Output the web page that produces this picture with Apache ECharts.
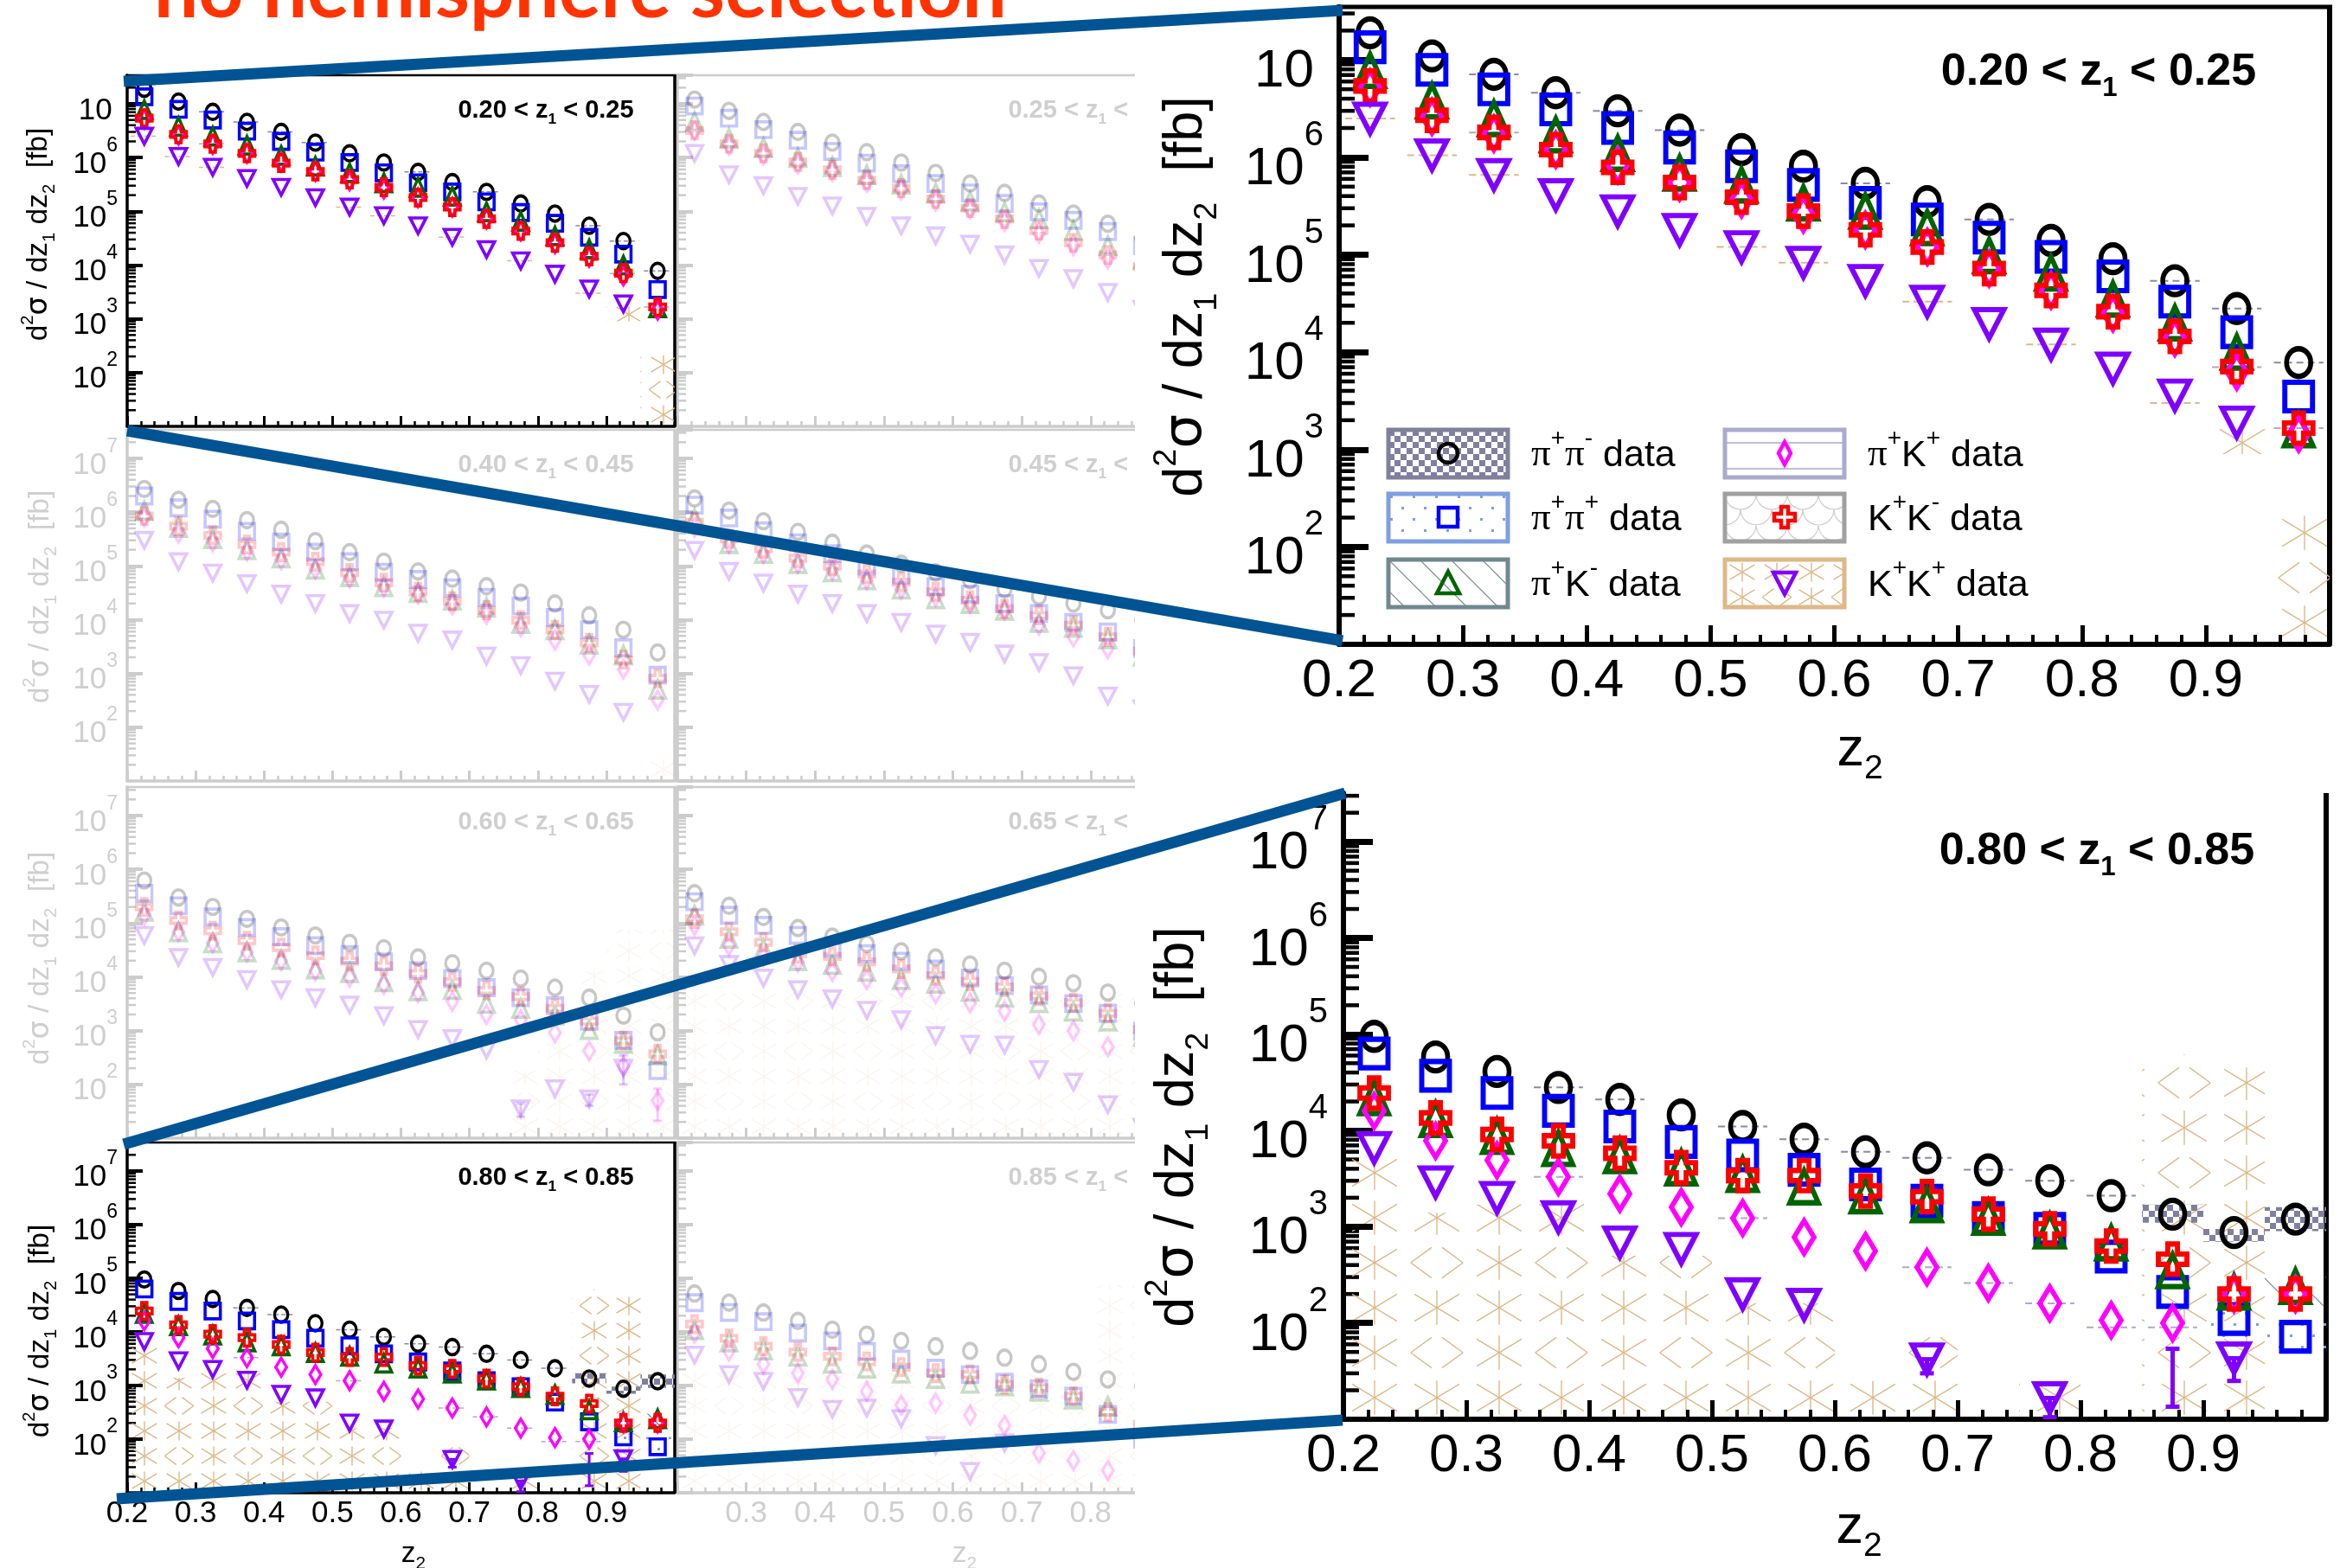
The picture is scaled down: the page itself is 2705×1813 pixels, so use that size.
<!DOCTYPE html>
<html><head><meta charset="utf-8">
<style>html,body{margin:0;padding:0;background:#fff}#c{width:2705px;height:1813px}</style>
<script src="https://cdn.jsdelivr.net/npm/echarts@6/dist/echarts.min.js"></script>
</head><body><div id="c"></div>
<script>
const z2 = [0.225,0.275,0.325,0.375,0.425,0.475,0.525,0.575,0.625,0.675,0.725,0.775,0.825,0.875,0.925,0.975];
const xTickLabels = ['0.2','0.3','0.4','0.5','0.6','0.7','0.8','0.9'];
const legendNames = ['π+π- data','π+π+ data','π+K- data','π+K+ data','K+K- data','K+K+ data'];

// 0.20 < z1 < 0.25
const z20_pipm = [1.9e7,1.1e7,7.1e6,4.6e6,3.0e6,1.9e6,1.2e6,8.1e5,5.4e5,3.5e5,2.3e5,1.4e5,9.1e4,5.4e4,2.8e4,7.8e3];
const z20_pipp = [1.35e7,7.9e6,5e6,3.1e6,2e6,1.26e6,8.1e5,5.2e5,3.4e5,2.3e5,1.5e5,9.5e4,6e4,3.3e4,1.6e4,3.5e3];
const z20_piKm = [7.8e6,3.8e6,2.5e6,1.7e6,1.1e6,6.9e5,5.2e5,3.4e5,2.8e5,1.9e5,9.8e4,6.5e4,3.5e4,2e4,1e4,1.6e3];
const z20_piKp = [5.2e6,2.6e6,1.75e6,1.2e6,8.3e5,5.5e5,3.7e5,2.6e5,1.8e5,1.2e5,7.2e4,4.3e4,2.5e4,1.4e4,6.3e3,1.45e3];
const z20_KmK  = [5.4e6,2.7e6,1.8e6,1.2e6,7.9e5,5.5e5,3.9e5,2.8e5,1.8e5,1.2e5,7.2e4,4.3e4,2.6e4,1.45e4,7.1e3,1.66e3];
const z20_KpK  = [2.5e6,1.05e6,6.6e5,4.1e5,2.8e5,1.8e5,1.2e5,8.3e4,5.4e4,3.3e4,1.95e4,1.2e4,6.8e3,3.6e3,1.9e3,null];
const z20_hatch = [[14,9e2,1.7e3],[15,10,2.1e2]];
const z20_dash_pipm = [[2,7.1e6],[3,4.6e6],[4,3e6],[5,1.9e6],[8,5.4e5],[10,2.3e5],[13,5.4e4],[14,2.8e4],[15,7.8e3]];
const z20_dash_piKp = [[2,1.8e6],[14,7e3],[15,1.66e3]];
const z20_dash_KpK = [[0,2.5e6],[1,1.05e6],[2,6.6e5],[6,1.2e5],[7,8.3e4],[9,3.3e4],[11,1.2e4],[13,3e3]];

// 0.25 < z1 < 0.30
const z25_pipm = [1.2e7,7.4e6,4.6e6,3e6,1.9e6,1.26e6,8.1e5,5.2e5,3.3e5,2.2e5,1.4e5,9.1e4,5.9e4,3.2e4];
const z25_pipp = [9.1e6,5.4e6,3.3e6,2.1e6,1.3e6,7.9e5,5e5,3.3e5,2.2e5,1.4e5,9.8e4,6.8e4,4.2e4,2.3e4];
const z25_piKm = [4.7e6,2.3e6,1.55e6,1e6,6.8e5,4.8e5,3.2e5,2.2e5,1.55e5,9.8e4,7.2e4,4.4e4,2.3e4,1.3e4];
const z25_piKp = [3.2e6,1.7e6,1.1e6,7.6e5,5.5e5,3.5e5,2.5e5,1.55e5,1.1e5,6.5e4,3.9e4,2.3e4,1.3e4,7.8e3];
const z25_KmK  = [3.2e6,1.8e6,1.2e6,8.3e5,5.9e5,3.8e5,2.7e5,1.7e5,1.15e5,7.2e4,4.4e4,2.6e4,1.55e4,9.3e3];
const z25_KpK  = [1.2e6,4.8e5,3e5,1.9e5,1.26e5,8.1e4,5.4e4,3.5e4,2.45e4,1.55e4,8.7e3,5.6e3,3.1e3,1.5e3];

// 0.40 < z1 < 0.45
const z40_pipm = [2.7e6,1.7e6,1.15e6,7.1e5,4.7e5,2.9e5,1.8e5,1.2e5,7.9e4,5.8e4,4.2e4,3.2e4,2e4,1.2e4,6.5e3,2.45e3];
const z40_pipp = [2e6,1.2e6,7.4e5,4.4e5,2.8e5,1.8e5,1.2e5,7.6e4,5.6e4,3.9e4,2.6e4,1.8e4,1.1e4,6.5e3,3e3,9.3e2];
const z40_piKm = [1.07e6,5.2e5,3.2e5,2e5,1.4e5,8.7e4,6.3e4,4.1e4,3.2e4,2.3e4,1.7e4,8.5e3,6.5e3,3.5e3,2.2e3,5.1e2];
const z40_piKp = [8.1e5,4.1e5,2.8e5,1.9e5,1.3e5,8.7e4,5.9e4,4.1e4,3e4,1.9e4,1.26e4,7.4e3,4.2e3,2.2e3,1.2e3,3.2e2];
const z40_KmK  = [8.5e5,5.5e5,3.7e5,2.5e5,1.8e5,1.2e5,7.4e4,4.9e4,3.3e4,2.2e4,1.5e4,9.8e3,6.5e3,3.7e3,1.8e3,8.1e2];
const z40_KpK  = [3e5,1.2e5,7.4e4,4.7e4,3e4,2e4,1.3e4,9.8e3,5.6e3,4.2e3,2.1e3,1.4e3,7.2e2,4.1e2,1.9e2,null];
const z40_hatch = [[15,10,3.5e1]];

// 0.45 < z1 < 0.50
const z45_pipm = [1.8e6,1.07e6,6.8e5,4.3e5,2.7e5,1.7e5,1.1e5,7.6e4,5.4e4,3.7e4,2.7e4,2e4,1.5e4,9.8e3];
const z45_pipp = [1.35e6,7.8e5,4.5e5,2.7e5,1.7e5,1e5,6.8e4,4.1e4,3e4,2e4,1.3e4,8.9e3,5.9e3,2.9e3];
const z45_piKm = [7.8e5,2.6e5,1.7e5,1.1e5,7.8e4,5.5e4,3.7e4,2.45e4,2e4,1.5e4,8.9e3,7.2e3,4.4e3,2.1e3];
const z45_piKp = [5.2e5,2.6e5,1.7e5,1.1e5,8.3e4,5.5e4,3.7e4,2.7e4,2e4,1.5e4,7.9e3,4.8e3,2.9e3,1.5e3];
const z45_KmK  = [6.5e5,3.2e5,2.1e5,1.4e5,1e5,7.1e4,5e4,3.3e4,2.3e4,1.6e4,1.2e4,7.9e3,4.8e3,2.6e3];
const z45_KpK  = [1.95e5,7.9e4,4.8e4,3e4,2e4,1.3e4,8.9e3,5.4e3,3.8e3,2.3e3,1.6e3,9.1e2,3.8e2,2.2e2];

// 0.60 < z1 < 0.65
const z60_pipm = [6.2e5,3e5,2e5,1.2e5,8.3e4,5.9e4,4.3e4,3.4e4,2.3e4,1.8e4,1.3e4,9.3e3,6.3e3,4.1e3,1.9e3,9.3e2];
const z60_pipp = [3.6e5,2.1e5,1.3e5,8.3e4,5.6e4,3.8e4,2.6e4,1.9e4,1.3e4,9.3e3,6.3e3,4.1e3,2.9e3,1.5e3,6.6e2,1.8e2];
const z60_piKm = [1.66e5,6.9e4,4.3e4,2.9e4,2.1e4,1.4e4,1.2e4,8.1e3,5.5e3,5.8e3,3.2e3,2.6e3,1.95e3,1.05e3,5.8e2,3.5e2];
const z60_piKp = [1.4e5,6.9e4,4.3e4,2.9e4,2e4,1.3e4,9.8e3,7.2e3,5.1e3,3.5e3,2e3,1.6e3,9.1e2,4.2e2,2.2e2,5e1];
const z60_KmK  = [2e5,1.12e5,7.2e4,4.7e4,3.5e4,2.5e4,1.95e4,1.6e4,1.15e4,8.1e3,5.6e3,4.3e3,2.6e3,1.5e3,6.5e2,3.7e2];
const z60_KpK  = [5.9e4,2.3e4,1.5e4,8.9e3,5.8e3,4.1e3,3e3,1.9e3,1.05e3,7.1e2,4.4e2,3.5e1,8.3e1,5.4e1,2e2,null];
const z60_hatch = [[11,10,1.8e2],[12,10,8.5e2],[13,10,1.3e4],[14,10,7.6e4],[15,10,7.6e4]];
const z60_err_KpK = [[11,2.5e1,4.4e1],[13,4e1,6.5e1],[14,1e2,3.5e2]];
const z60_err_piKp = [[15,2.1e1,8.3e1]];

// 0.65 < z1 < 0.70
const z65_pipm = [3.6e5,2.1e5,1.3e5,8.1e4,5.6e4,4.1e4,3e4,2.3e4,1.7e4,1.3e4,1e4,7.6e3,5.1e3,3.3e3];
const z65_pipp = [2.5e5,1.4e5,9.1e4,5.9e4,3.4e4,2.7e4,1.95e4,1.4e4,9.5e3,6.9e3,4.6e3,3.2e3,2.1e3,9.8e2];
const z65_piKm = [1.4e5,5.2e4,3.4e4,2e4,1.7e4,1.26e4,8.9e3,7.6e3,5.4e3,4.2e3,3.3e3,2.3e3,1.5e3,7.8e2];
const z65_piKp = [9.1e4,3.8e4,2.4e4,1.9e4,1.26e4,8.9e3,6.5e3,4.9e3,3.3e3,2.3e3,1.3e3,1e3,5e2,2.3e2];
const z65_KmK  = [1.2e5,6.9e4,4.4e4,2.7e4,2.4e4,1.9e4,1.4e4,1.05e4,8.3e3,6.5e3,4.4e3,3.3e3,2.1e3,1.05e3];
const z65_KpK  = [3.8e4,1.7e4,9.5e3,5.8e3,3.9e3,2.4e3,1.6e3,8.1e2,5.6e2,5.4e2,1.9e2,1.1e2,4.2e1,1.6e1];
const z65_hatch = [[0,10,5e3],[1,10,5e3],[2,10,5e3],[3,10,5e3],[4,10,5e3],[5,10,5e3],[6,10,5e3],[7,10,5e3],[8,10,5e3],[9,10,5e3],[10,10,5e3],[11,10,5e3],[12,10,5e3],[13,10,5e3]];

// 0.80 < z1 < 0.85
const z80_pipm = [9.5e4,5.8e4,4.1e4,2.8e4,2.1e4,1.45e4,1.1e4,8.1e3,6e3,5.2e3,3.9e3,3e3,2.1e3,1.35e3,8.7e2,1.2e3];
const z80_pipp = [6.3e4,3.7e4,2.45e4,1.6e4,1.1e4,7.6e3,5.5e3,3.9e3,2.75e3,1.86e3,1.23e3,9.5e2,4.9e2,2.1e2,1.1e2,7.2e1];
const z80_piKm = [2.2e4,1.3e4,8.7e3,6.5e3,5.5e3,4.1e3,3.5e3,2.6e3,2.1e3,1.7e3,1.26e3,9.1e2,6.8e2,3.5e2,2.1e2,2.4e2];
const z80_piKp = [1.6e4,7.8e3,4.9e3,3.3e3,2.2e3,1.6e3,1.23e3,7.8e2,5.6e2,3.8e2,2.6e2,1.6e2,1.07e2,1e2,2e2,2e2];
const z80_KmK  = [2.45e4,1.35e4,9.1e3,7.8e3,5.8e3,4.1e3,3.4e3,3.4e3,2.35e3,2.05e3,1.35e3,9.5e2,6.3e2,4.6e2,2e2,2e2];
const z80_KpK  = [6.6e3,2.9e3,2e3,1.26e3,6.9e2,5.9e2,2e2,1.55e2,null,4.2e1,null,1.66e1,null,null,4.3e1,null];
const z80_hatch = [[0,10,5.5e3],[1,10,1.4e3],[2,10,1.7e3],[3,10,1.8e3],[4,10,5e2],[5,10,5e2],[6,10,1.6e2],[7,10,1.6e2],[8,10,2.5e1],[9,10,8e1],[11,10,2.5e1],[13,10,6.2e4],[14,10,4.5e4]];
const z80_check = [[13,1.1e3,1.7e3],[14,7e2,9.5e2],[15,9e2,1.6e3]];
const z80_dots = [[14,7e1,1.4e2],[15,4.5e1,1.1e2]];
const z80_diag = [[15,1.5e2,3e2]];
const z80_err_KpK = [[9,3e1,4.2e1],[11,1.05e1,1.66e1],[13,1.35e1,5.4e1],[14,2.5e1,4.3e1]];
const z80_dash_pipm = [[3,2.8e4],[4,2.1e4],[6,1.1e4],[7,8.1e3],[8,6e3],[9,5.2e3],[10,3.9e3],[11,3e3],[12,2.1e3]];
const z80_dash_piKp = [[3,3.3e3],[6,1.23e3],[9,3.8e2],[10,2.6e2],[11,1.6e2],[12,9e1],[13,9e1]];

// 0.85 < z1 < 0.90
const z85_pipm = [5.2e4,3.5e4,2.3e4,1.6e4,1.1e4,8.9e3,6.8e3,5.4e3,4.4e3,3.3e3,2.5e3,1.8e3,1.3e3,9.8e2];
const z85_pipp = [3.5e4,2.3e4,1.55e4,9.5e3,6.8e3,4.3e3,3.1e3,2.1e3,1.6e3,1.15e3,8.7e2,6.3e2,2.9e2,1e2];
const z85_piKm = [1.1e4,6.5e3,4.6e3,3.5e3,2.6e3,2.1e3,1.7e3,1.35e3,1.1e3,9.8e2,7.8e2,5.6e2,4.1e2,1.9e2];
const z85_piKp = [9.5e3,4.4e3,2.5e3,1.7e3,1.3e3,7.8e2,4.3e2,4.7e2,2.8e2,1.8e2,5.5e1,4e1,2.6e1,1.5e1];
const z85_KmK  = [1.4e4,7.6e3,5.4e3,4.2e3,3.5e3,2.8e3,2.2e3,1.7e3,1.6e3,1.05e3,9.1e2,6.3e2,3.2e2,1.9e2];
const z85_KpK  = [3.7e3,1.6e3,1.2e3,6e2,3.6e2,3.8e2,2.4e2,7.6e1,2.5e1,8.5e1,null,null,null,null];
const z85_hatch = [[0,10,2.3e3],[1,10,2.3e3],[2,10,2.3e3],[3,10,2.3e3],[4,10,2.3e3],[5,10,2.3e3],[6,10,2.3e3],[7,10,2.3e3],[8,10,2.3e3],[9,10,2.3e3],[10,10,2.3e3],[11,10,2.3e3],[12,10,7.4e4],[13,10,7.4e4]];

const FF = '"Liberation Sans"';
const TAN='#deb887';

function tile(kind,w,h){
  const c=document.createElement('canvas');c.width=w;c.height=h;const g=c.getContext('2d');
  const ln=(a,b,d,e)=>{g.beginPath();g.moveTo(a,b);g.lineTo(d,e);g.stroke();};
  if(kind==='star'){
    g.strokeStyle=TAN;g.lineWidth=w>150?2:1.4;
    const cw=w/2,ch=h/2;
    const star=(cx,cy)=>{const rx=cw*0.36,ry=ch*0.3;ln(cx-rx,cy-ry,cx+rx,cy+ry);ln(cx-rx,cy+ry,cx+rx,cy-ry);ln(cx,cy-ch*0.38,cx,cy+ch*0.38);};
    const chev=(cx,cy)=>{const rx=cw*0.42,ry=ch*0.34;ln(cx-rx*0.2,cy-ry,cx-rx,cy);ln(cx-rx,cy,cx-rx*0.2,cy+ry);ln(cx+rx*0.2,cy-ry,cx+rx,cy);ln(cx+rx,cy,cx+rx*0.2,cy+ry);};
    star(cw/2,ch/2);star(cw*1.5,ch/2);star(cw/2,ch*1.5);chev(cw*1.5,ch*1.5);
  } else if(kind==='check'){
    g.fillStyle='#7f7f9f';g.fillRect(0,0,w/2,h/2);g.fillRect(w/2,h/2,w/2,h/2);
  } else if(kind==='dots'){
    g.fillStyle='#7f9fdf';g.fillRect(2,2,3,3);g.fillRect(w/2+2,h/2+2,3,3);
  } else if(kind==='diag'){
    g.strokeStyle='#6f8590';g.lineWidth=1.2;ln(0,0,w,h);ln(-w/2,h/2,w/2,3*h/2);ln(w/2,-h/2,3*w/2,h/2);
  } else if(kind==='hline'){
    g.strokeStyle='#aaaacc';g.lineWidth=1.5;ln(0,h/2,w,h/2);
  } else if(kind==='scallop'){
    g.strokeStyle='#cccccc';g.lineWidth=1.2;
    g.beginPath();g.arc(w/2,0,w/2,0,Math.PI);g.stroke();
    g.beginPath();g.arc(0,h/2,w/2,0,Math.PI/2);g.stroke();
    g.beginPath();g.arc(w,h/2,w/2,Math.PI/2,Math.PI);g.stroke();
  }
  return c;
}
const tiles={starBig:tile('star',144,104),starSmall:tile('star',80,58),check:tile('check',14,14),dots:tile('dots',26,26),diag:tile('diag',36,36),hline:tile('hline',30,30),scallop:tile('scallop',36,36)};

const P={
 circle:'circle',
 square:'rect',
 up:'path://M50 0L100 100L0 100Z',
 down:'path://M0 0L100 0L50 100Z',
 diamond:'path://M50 0L100 50L50 100L0 50Z',
 cross:'path://M33 0L67 0L67 33L100 33L100 67L67 67L67 100L33 100L33 67L0 67L0 33L33 33Z'
};
const seriesDefs=[
 {k:'pipm',color:'#000000',sym:P.circle,size:[28,32]},
 {k:'pipp',color:'#0000ff',sym:P.square,size:[32,33]},
 {k:'piKm',color:'#006400',sym:P.up,size:[33,37]},
 {k:'piKp',color:'#ff00ff',sym:P.diamond,size:[23,38]},
 {k:'KmK',color:'#ff0000',sym:P.cross,size:[33,35]},
 {k:'KpK',color:'#8000ff',sym:P.down,size:[34,33]}
];
const panels=[
 {g:[147,87,633,406],ymax:3.4e7,active:true,s:0.55,noSup7:true,lab:['0.20','0.25'],vals:[z20_pipm,z20_pipp,z20_piKm,z20_piKp,z20_KmK,z20_KpK],hatch:z20_hatch,dash:[[z20_dash_pipm,'#8a8aa8'],[z20_dash_piKp,'#aaaacc'],[z20_dash_KpK,TAN]],ty:[45,271]},
 {g:[783,87,637,406],ymax:3.4e7,s:0.55,col2:true,lab:['0.25','0.30'],vals:[z25_pipm,z25_pipp,z25_piKm,z25_piKp,z25_KmK,z25_KpK]},
 {g:[147,497,633,406],ymax:3.4e7,s:0.55,lab:['0.40','0.45'],vals:[z40_pipm,z40_pipp,z40_piKm,z40_piKp,z40_KmK,z40_KpK],hatch:z40_hatch,ty:[47,690]},
 {g:[783,497,637,406],ymax:3.4e7,s:0.55,col2:true,lab:['0.45','0.50'],vals:[z45_pipm,z45_pipp,z45_piKm,z45_piKp,z45_KmK,z45_KpK]},
 {g:[147,910,633,406],ymax:3.4e7,s:0.55,lab:['0.60','0.65'],vals:[z60_pipm,z60_pipp,z60_piKm,z60_piKp,z60_KmK,z60_KpK],hatch:z60_hatch,err:[[z60_err_KpK,'#8000ff'],[z60_err_piKp,'#ff00ff']],ty:[47,1108]},
 {g:[783,910,637,406],ymax:3.4e7,s:0.55,col2:true,lab:['0.65','0.70'],vals:[z65_pipm,z65_pipp,z65_piKm,z65_piKp,z65_KmK,z65_KpK],hatch:z65_hatch},
 {g:[147,1321,633,405],ymax:3.4e7,active:true,s:0.55,xlab:true,lab:['0.80','0.85'],vals:[z80_pipm,z80_pipp,z80_piKm,z80_piKp,z80_KmK,z80_KpK],hatch:z80_hatch,bands:[[z80_check,'check'],[z80_dots,'dots'],[z80_diag,'diag']],err:[[z80_err_KpK,'#8000ff']],dash:[[z80_dash_pipm,'#8a8aa8'],[z80_dash_piKp,'#aaaacc']],ty:[47,1539],xt:[478,1797]},
 {g:[783,1321,637,405],ymax:3.4e7,s:0.55,col2:true,xlab:true,lab:['0.85','0.90'],vals:[z85_pipm,z85_pipp,z85_piKm,z85_piKp,z85_KmK,z85_KpK],hatch:z85_hatch,xt:[1115,1797]},
 {g:[1548,8,1145,737],ymax:3.5e7,active:true,big:true,s:1,noSup7:true,xlab:true,lab:['0.20','0.25'],vals:[z20_pipm,z20_pipp,z20_piKm,z20_piKp,z20_KmK,z20_KpK],hatch:z20_hatch,dash:[[z20_dash_pipm,'#8a8aa8'],[z20_dash_piKp,'#aaaacc'],[z20_dash_KpK,TAN]],ty:[1372,343],xt:[2150,868],lp:[2426,84]},
 {g:[1553,917,1136,724],ymax:3.2e7,active:true,big:true,noTop:true,s:1,xlab:true,lab:['0.80','0.85'],vals:[z80_pipm,z80_pipp,z80_piKm,z80_piKp,z80_KmK,z80_KpK],hatch:z80_hatch,bands:[[z80_check,'check'],[z80_dots,'dots'],[z80_diag,'diag']],err:[[z80_err_KpK,'#8000ff']],dash:[[z80_dash_pipm,'#8a8aa8'],[z80_dash_piKp,'#aaaacc']],ty:[1362,1303],xt:[2149,1767],lp:[2424,985]}
];

const yMinor=[];for(let e=1;e<=7;e++)for(let m=2;m<=9;m++)yMinor.push(m*Math.pow(10,e));

const grid=[],xAxis=[],yAxis=[],series=[],graphic=[];
const GREY='#cccccc';
panels.forEach((p,ix)=>{
  const big=!!p.big, base=p.active?20:1, col=p.active?'#000000':GREY, op=p.active?1:0.22;
  const k=big?1:0.55;
  grid.push({left:p.g[0],top:p.g[1],width:p.g[2],height:p.g[3],show:false});
  const lw=big?6:3.5;
  xAxis.push({gridIndex:ix,type:'value',min:0.2,max:1.0,interval:0.1,z:base,
    axisLine:{show:true,lineStyle:{color:col,width:lw}},
    axisTick:{show:true,inside:true,length:big?22:12,lineStyle:{color:col,width:big?5:3}},
    minorTick:{show:true,splitNumber:5,length:big?11:6,lineStyle:{color:col,width:big?4:2.5}},
    splitLine:{show:false},
    axisLabel:{show:!!p.xlab,margin:big?12:7,color:p.active?'#000':'#cfcfcf',fontFamily:FF,fontSize:big?62:35,showMaxLabel:false,
      formatter:v=>{const s=v.toFixed(1);return (p.col2&&s==='0.2')?'':(xTickLabels.indexOf(s)>=0?s:'');}}
  });
  const bf=big?62:35,sf=big?40:23;
  yAxis.push({gridIndex:ix,type:'log',logBase:10,min:10,max:p.ymax,interval:1,splitNumber:7,z:base,
    axisLine:{show:true,onZero:false,lineStyle:{color:col,width:lw}},
    axisTick:{show:true,inside:true,length:big?34:18,lineStyle:{color:col,width:big?7:4}},
    minorTick:{show:false},splitLine:{show:false},
    axisLabel:{show:!p.col2,margin:big?18:11,showMinLabel:false,showMaxLabel:false,color:p.active?'#000':'#cfcfcf',fontFamily:FF,
      formatter:v=>{const e=Math.round(Math.log10(v));if(e<2||e>7)return '';return (e===7&&p.noSup7)?'{b|10}{n| }':'{b|10}{s|'+e+'}';},
      rich:{b:{fontSize:bf,fontFamily:FF,color:p.active?'#000':'#cfcfcf',verticalAlign:'bottom',lineHeight:bf*1.45},
            s:{fontSize:sf,fontFamily:FF,color:p.active?'#000':'#cfcfcf',verticalAlign:'top',lineHeight:bf*1.45},
            n:{fontSize:sf,fontFamily:FF,lineHeight:bf*1.45}}}
  });
  const mk=(o)=>Object.assign({xAxisIndex:ix,yAxisIndex:ix,silent:true,animation:false},o);
  // frame + minor y ticks
  series.push(mk({type:'custom',z:base,clip:false,data:[[0.2,10]],
    renderItem:(params,api)=>{
      const ch=[];const ml=big?18:10,mw=big?4.5:2.5;
      yMinor.forEach(v=>{if(v>=p.ymax)return;const c=api.coord([0.2,v]);ch.push({type:'line',shape:{x1:c[0],y1:c[1],x2:c[0]+ml,y2:c[1]},style:{stroke:col,lineWidth:mw}});});
      const tl=api.coord([0.2,p.ymax]),tr=api.coord([1.0,p.ymax]),br=api.coord([1.0,10]);
      if(!p.noTop)ch.push({type:'line',shape:{x1:tl[0]-lw/2,y1:tl[1],x2:tr[0]+lw/2,y2:tr[1]},style:{stroke:col,lineWidth:big?5:2.6}});
      ch.push({type:'line',shape:{x1:tr[0],y1:tr[1],x2:br[0],y2:br[1]},style:{stroke:col,lineWidth:lw}});
      return {type:'group',children:ch};
    }}));
  // hatched / patterned uncertainty bands
  const bandList=[];
  if(p.hatch)bandList.push([p.hatch,big?'starBig':'starSmall',true]);
  (p.bands||[]).forEach(b=>bandList.push(b));
  const bottom=p.g[1]+p.g[3];
  bandList.forEach(([rows,pat,isStar])=>{
    const py=isStar?(bottom-(big?51:28)):p.g[1];
    const bop=p.active?1:0.14;
    series.push(mk({type:'custom',z:base,clip:true,data:rows.map(r=>[z2[r[0]],r[1],r[2]]),
      renderItem:(params,api)=>{
        const x=api.value(0),a=api.coord([x-0.025,api.value(1)]),b=api.coord([x+0.025,api.value(2)]);
        return {type:'rect',shape:{x:a[0],y:b[1],width:b[0]-a[0],height:a[1]-b[1]},
          style:{fill:{image:tiles[pat],repeat:'repeat',x:p.g[0],y:py},opacity:bop}};
      }}));
  });
  (p.dash||[]).forEach(([rows,c])=>{
    series.push(mk({type:'custom',z:base,clip:true,data:rows.map(r=>[z2[r[0]],r[1]]),
      renderItem:(params,api)=>{
        const x=api.value(0),a=api.coord([x-0.02,api.value(1)]),b=api.coord([x+0.02,api.value(1)]);
        return {type:'line',shape:{x1:a[0],y1:a[1],x2:b[0],y2:b[1]},style:{stroke:c,lineWidth:big?2:1.5,lineDash:[big?8:5,big?5:3],opacity:op}};
      }}));
  });
  (p.err||[]).forEach(([rows,c])=>{
    series.push(mk({type:'custom',z:base+7,clip:true,data:rows.map(r=>[z2[r[0]],r[1],r[2]]),
      renderItem:(params,api)=>{
        const x=api.value(0),a=api.coord([x,api.value(1)]),b=api.coord([x,api.value(2)]),w=big?8:5;
        const st={stroke:c,lineWidth:big?5:3,opacity:op};
        return {type:'group',children:[
          {type:'line',shape:{x1:a[0],y1:a[1],x2:b[0],y2:b[1]},style:st},
          {type:'line',shape:{x1:a[0]-w,y1:a[1],x2:a[0]+w,y2:a[1]},style:st},
          {type:'line',shape:{x1:b[0]-w,y1:b[1],x2:b[0]+w,y2:b[1]},style:st}]};
      }}));
  });
  seriesDefs.forEach((d,j)=>{
    const vals=p.vals[j],data=[];
    vals.forEach((v,i)=>{if(v!=null)data.push([z2[i],v]);});
    series.push(mk({type:'scatter',name:legendNames[j],z:base+1+j,clip:false,
      symbol:d.sym,symbolSize:[d.size[0]*k,d.size[1]*k],data:data,
      itemStyle:{color:'rgba(0,0,0,0)',borderColor:d.color,borderWidth:big?6:3.6,opacity:op}}));
  });
  // text
  const tz=base+8, tc=p.active?'#000000':'#cfcfcf';
  const ts=big?63:33.5, lb=big?52:29;
  if(p.ty){
    graphic.push({type:'text',z:tz,x:p.ty[0],y:p.ty[1],rotation:Math.PI/2,style:{
      text:'{t|d}{sup|2}{g|σ}{t| / dz}{sub|1}{t| dz}{sub|2}{t|  [fb]}',align:'center',verticalAlign:'middle',
      rich:{t:{font:ts+'px '+FF,fill:tc,lineHeight:ts*1.35,verticalAlign:'middle'},
            g:{font:ts+'px "DejaVu Sans"',fill:tc,lineHeight:ts*1.35,verticalAlign:'middle'},
            sup:{font:ts*0.6+'px '+FF,fill:tc,verticalAlign:'top',lineHeight:ts*1.35},
            sub:{font:ts*0.6+'px '+FF,fill:tc,verticalAlign:'bottom',lineHeight:ts*1.35}}}});
  }
  if(p.xt){
    graphic.push({type:'text',z:tz,x:p.xt[0],y:p.xt[1],style:{text:'{t|z}{sub|2}',align:'center',verticalAlign:'middle',
      rich:{t:{font:ts+'px '+FF,fill:tc,lineHeight:ts*1.3,verticalAlign:'middle'},sub:{font:ts*0.62+'px '+FF,fill:tc,verticalAlign:'bottom',lineHeight:ts*1.3}}}});
  }
  const lp=p.lp||[p.g[0]+484,p.g[1]+41];
  graphic.push({type:'text',z:tz,x:lp[0],y:lp[1],style:{
    text:'{t|'+p.lab[0]+' < z}{sub|1}{t| < '+p.lab[1]+'}',align:'center',verticalAlign:'middle',
    rich:{t:{font:'bold '+lb+'px '+FF,fill:tc,lineHeight:lb*1.3,verticalAlign:'middle'},
          sub:{font:'bold '+lb*0.6+'px '+FF,fill:tc,verticalAlign:'bottom',lineHeight:lb*1.3}}}});
});

// white cover that crops the right-hand column
graphic.push({type:'rect',z:10,shape:{x:1312,y:0,width:1393,height:1813},style:{fill:'#ffffff'}});

// legend of the large upper panel
const legPos=[[1605,497],[1605,571],[1605,647],[1994,497],[1994,571],[1994,647]];
const legText=[
 '{p|π}{s|+}{p|π}{s|-}{t| data}','{p|π}{s|+}{p|π}{s|+}{t| data}','{p|π}{s|+}{t|K}{s|-}{t| data}',
 '{p|π}{s|+}{t|K}{s|+}{t| data}','{t|K}{s|+}{t|K}{s|-}{t| data}','{t|K}{s|+}{t|K}{s|+}{t| data}'];
const legBorder=['#80809c','#7f9fdf','#708890','#aaaacc','#a0a0a0',TAN];
const legPat=['check','dots','diag','hline','scallop','starSmall'];
const LZ=40;
legPos.forEach((pos,i)=>{
  const cx=pos[0]+69,cy=pos[1]+27,d=seriesDefs[i];
  graphic.push({type:'rect',z:LZ,shape:{x:pos[0],y:pos[1],width:138,height:55},
    style:{fill:{image:tiles[legPat[i]],repeat:'repeat',x:pos[0],y:pos[1]},stroke:legBorder[i],lineWidth:5}});
  const st={fill:'rgba(0,0,0,0)',stroke:d.color,lineWidth:4.5};
  const poly=(pts)=>graphic.push({type:'polygon',z:LZ+1,shape:{points:pts.map(q=>[cx+q[0],cy+q[1]])},style:st});
  if(i===0)graphic.push({type:'circle',z:LZ+1,shape:{cx:cx,cy:cy,r:11},style:st});
  if(i===1)graphic.push({type:'rect',z:LZ+1,shape:{x:cx-11,y:cy-11,width:22,height:22},style:st});
  if(i===2)poly([[0,-13],[13,12],[-13,12]]);
  if(i===3)poly([[0,-13],[7,0],[0,13],[-7,0]]);
  if(i===4)poly([[-4,-12],[4,-12],[4,-4],[12,-4],[12,4],[4,4],[4,12],[-4,12],[-4,4],[-12,4],[-12,-4],[-4,-4]]);
  if(i===5)poly([[-13,-12],[13,-12],[0,13]]);
  graphic.push({type:'text',z:LZ,x:pos[0]+165,y:cy-3,style:{text:legText[i],align:'left',verticalAlign:'middle',
    rich:{t:{font:'43px '+FF,fill:'#000',lineHeight:56,verticalAlign:'bottom'},
          p:{font:'45px "Liberation Serif"',fill:'#000',lineHeight:56,verticalAlign:'bottom'},
          s:{font:'28px '+FF,fill:'#000',lineHeight:56,verticalAlign:'top'}}}});
});

// blue zoom guides
const guides=[[143,94,1552,12],[147,498,1552,741],[143,1323,1555,917],[135,1733,1552,1642]];
guides.forEach(q=>graphic.push({type:'line',z:60,shape:{x1:q[0],y1:q[1],x2:q[2],y2:q[3]},style:{stroke:'#005494',lineWidth:13}}));

// red heading, cut by the top of the picture
graphic.push({type:'text',z:60,x:178,y:36,style:{text:'no hemisphere selection',font:'bold 91px Lato',fill:'#ff3300',align:'left',verticalAlign:'bottom'}});

const chart=echarts.init(document.getElementById('c'),null,{renderer:'canvas',width:2705,height:1813});
chart.setOption({animation:false,backgroundColor:'#ffffff',grid,xAxis,yAxis,series,graphic:{elements:graphic}});
</script></body></html>
